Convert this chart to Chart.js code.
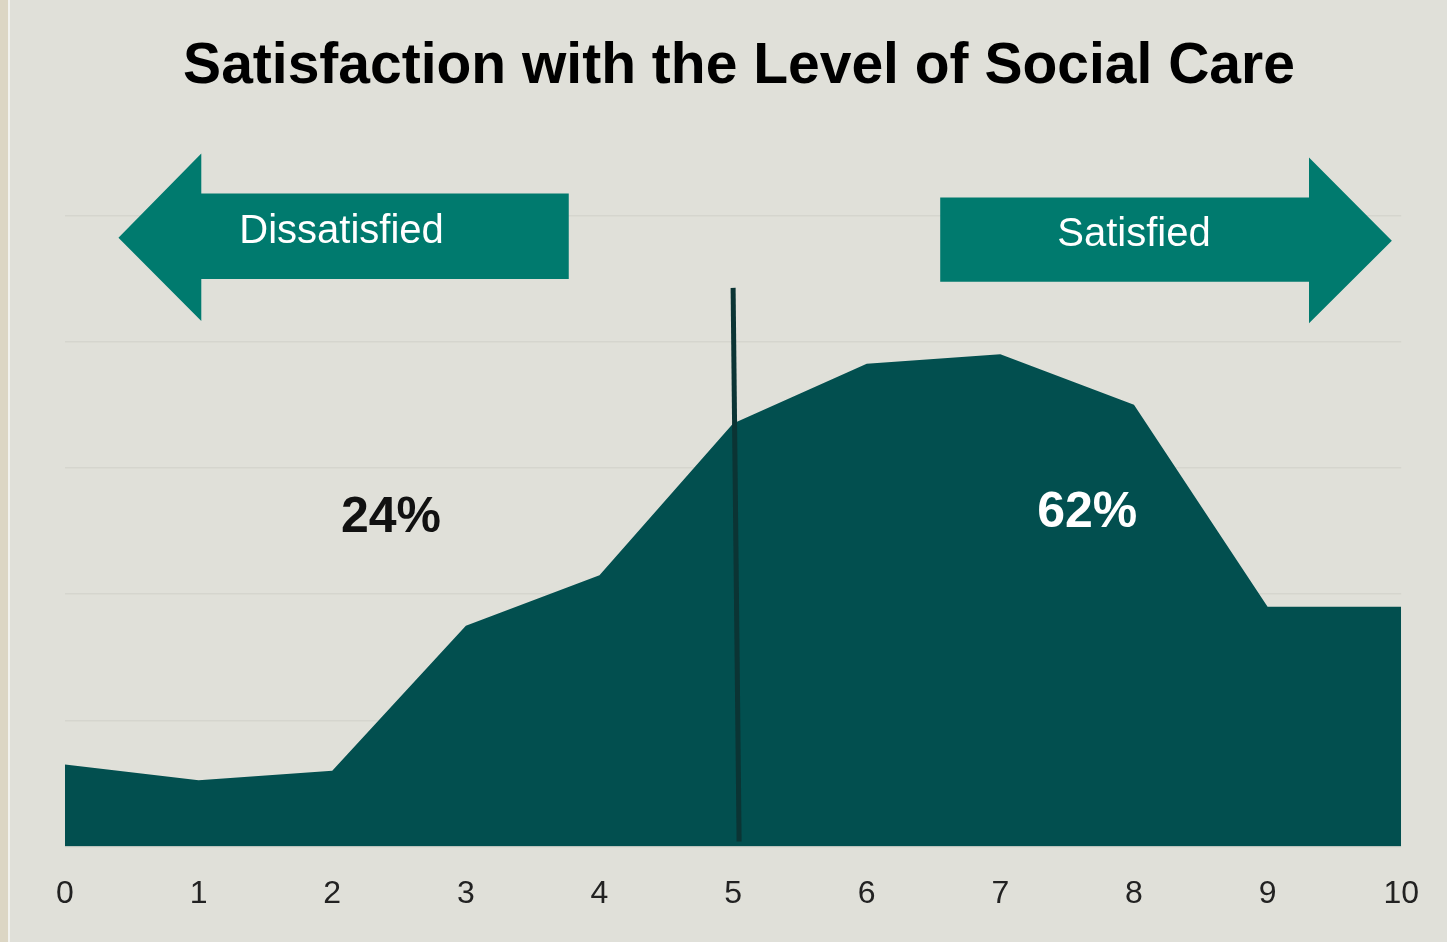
<!DOCTYPE html>
<html>
<head>
<meta charset="utf-8">
<script src="https://cdn.jsdelivr.net/npm/chart.js@4"></script>
<style>
  html, body { margin: 0; padding: 0; background: #e0e0d9; }
  #wrap { position: relative; width: 1447px; height: 942px; }
  #strip { position: absolute; left: 0; top: 0; width: 8px; height: 942px; background: #dcd6c4; border-right: 2px solid #f2f2ee; }
  canvas { position: absolute; left: 0; top: 0; }
</style>
</head>
<body>
<div id="wrap">
  <div id="strip"></div>
  <canvas id="grafik" width="1447" height="942"></canvas>
</div>
<script>
// puan kategorileri ve yuzdeler
const puanlar = ["0", "1", "2", "3", "4", "5", "6", "7", "8", "9", "10"];
const yuzdeler = [2.6, 2.1, 2.4, 7.0, 8.6, 13.4, 15.3, 15.6, 14.0, 7.6, 7.6];
const baslik = "Satisfaction with the Level of Social Care";
const ozetEtiketler = ["24%", "62%"];
const okYazilari = ["Dissatisfied", "Satisfied"];

const zemin = "#e0e0d9";
const alanRengi = "#024f4f";
const okRengi = "#007a6e";

// Oklar ve yazilar: eksen birimlerinde (x = puan, y = yuzde)
const solOk = [[0.40, 19.29], [1.02, 21.96], [1.02, 20.69], [3.77, 20.69], [3.77, 17.98], [1.02, 17.98], [1.02, 16.65]];
const sagOk = [[6.55, 20.56], [9.31, 20.56], [9.31, 21.83], [9.93, 19.19], [9.31, 16.58], [9.31, 17.89], [6.55, 17.89]];

const susleme = {
    id: "susleme",
    beforeDraw(chart) {
        const c = chart.ctx;
        c.save();
        c.fillStyle = zemin;
        c.fillRect(10, 0, chart.width, chart.height);
        c.restore();
    },
    afterDatasetsDraw(chart) {
        const c = chart.ctx;
        const x = chart.scales.x, y = chart.scales.y;
        const px = v => x.getPixelForValue(v);
        const py = v => y.getPixelForValue(v);
        c.save();

        // ortadaki dikey cizgi (5 puan)
        c.strokeStyle = "#0b3434";
        c.lineWidth = 5;
        c.beginPath();
        c.moveTo(px(5), py(17.7));
        c.lineTo(px(5.045), py(0.16));
        c.stroke();

        // oklar
        c.fillStyle = okRengi;
        [solOk, sagOk].forEach(ok => {
            c.beginPath();
            ok.forEach((p, i) => i === 0 ? c.moveTo(px(p[0]), py(p[1])) : c.lineTo(px(p[0]), py(p[1])));
            c.closePath();
            c.fill();
        });

        c.textAlign = "center";
        c.textBaseline = "alphabetic";
        c.fillStyle = "#ffffff";
        c.font = "40px 'Liberation Sans', Arial, sans-serif";
        c.fillText(okYazilari[0], px(2.07), py(19.13));
        c.fillText(okYazilari[1], px(8.0), py(19.03));

        c.font = "bold 50px 'Liberation Sans', Arial, sans-serif";
        c.fillStyle = "#111111";
        c.fillText(ozetEtiketler[0], px(2.44), py(9.96));
        c.fillStyle = "#ffffff";
        c.fillText(ozetEtiketler[1], px(7.65), py(10.12));

        // baslik
        c.fillStyle = "#000000";
        c.font = "bold 57px 'Liberation Sans', Arial, sans-serif";
        c.fillText(baslik, 739, 83);
        c.restore();
    }
};

new Chart(document.getElementById("grafik"), {
    type: "line",
    data: {
        labels: puanlar,
        datasets: [{
            data: yuzdeler,
            fill: "origin",
            backgroundColor: alanRengi,
            borderWidth: 0,
            pointRadius: 0,
            tension: 0
        }]
    },
    options: {
        responsive: false,
        animation: false,
        layout: { padding: { left: 65, right: 37, top: 89, bottom: 1 } },
        plugins: { legend: { display: false }, tooltip: { enabled: false } },
        scales: {
            x: {
                offset: false,
                grid: { display: false, drawTicks: false },
                border: { display: false },
                ticks: {
                    padding: 28,
                    color: "#222222",
                    font: { family: "'Liberation Sans', Arial", size: 32 },
                    maxRotation: 0,
                    autoSkip: false
                }
            },
            y: {
                min: 0,
                max: 24,
                ticks: { display: false, stepSize: 4 },
                border: { display: false },
                grid: {
                    drawTicks: false,
                    color: ctx => (ctx.tick && ctx.tick.value === 24) ? "rgba(0,0,0,0)" : "#d5d5ce",
                    lineWidth: 1.5
                }
            }
        }
    },
    plugins: [susleme]
});
</script>
</body>
</html>
